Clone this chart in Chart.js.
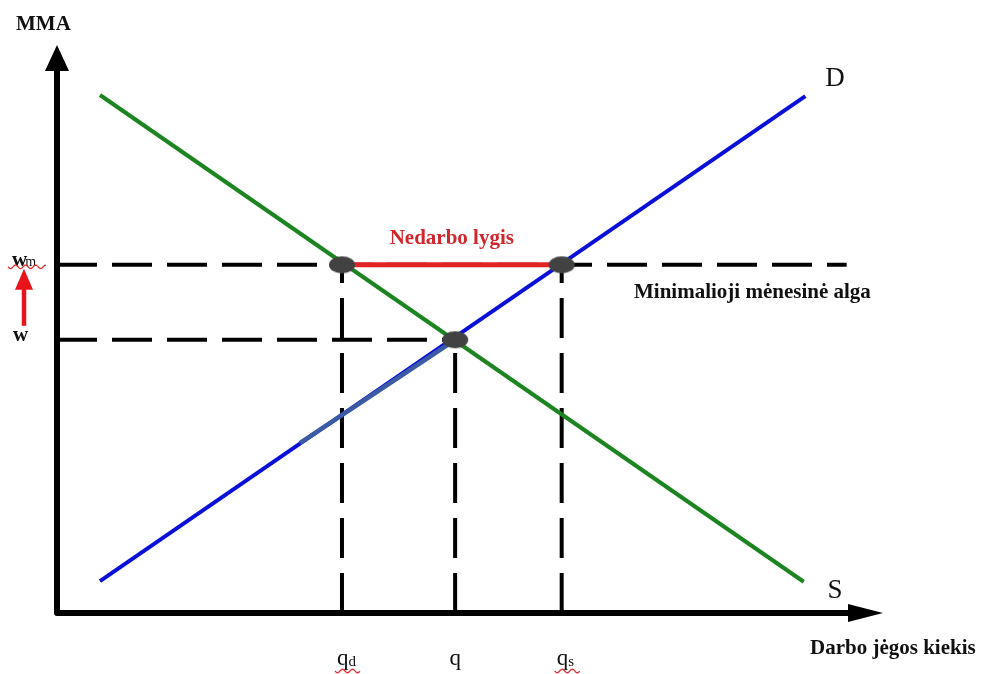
<!DOCTYPE html>
<html>
<head>
<meta charset="utf-8">
<script src="https://cdn.jsdelivr.net/npm/chart.js@4"></script>
<style>
  body { margin: 0; background: #fff; }
  .wrap { width: 983px; height: 674px; position: relative; }
</style>
</head>
<body>
<div class="wrap"><canvas id="labour"></canvas></div>
<script>
// Labour market chart: values in axis units (0..100)
const supplyLine = [{ x: 5.2, y: 91.2 }, { x: 90.4, y: 5.5 }];   // green
const demandLine = [{ x: 5.2, y: 5.6 }, { x: 90.6, y: 91.0 }];   // blue
const demandShade = [{ x: 29.4, y: 29.9 }, { x: 48.2, y: 48.1 }]; // darker blue part
const qTicks = [34.5, 48.2, 61.1];
const qSubs = ["d", "", "s"];
const wTicks = [61.3, 48.1];
const wSubs = ["m", ""];
const minWageEnd = 95.6;

const qd = qTicks[0], q = qTicks[1], qs = qTicks[2];
const wm = wTicks[0], w = wTicks[1];

// ellipse marker
const dot = document.createElement("canvas");
dot.width = 28;
dot.height = 19;
const dctx = dot.getContext("2d");
dctx.fillStyle = "#424242";
dctx.beginPath();
dctx.ellipse(14, 9.5, 13, 8.5, 0, 0, Math.PI * 2);
dctx.fill();

function dashed(points) {
  return {
    data: points,
    showLine: true,
    borderColor: "#000",
    borderWidth: 4,
    borderDash: [40, 15],
    pointRadius: 0,
    order: 5,
  };
}

function squiggle(ctx, x1, x2, y) {
  ctx.save();
  ctx.strokeStyle = "#e03030";
  ctx.lineWidth = 1.3;
  ctx.beginPath();
  for (let x = x1; x <= x2; x += 1) {
    const yy = y + Math.sin((x - x1) / 1.6) * 1.8;
    if (x === x1) ctx.moveTo(x, yy);
    else ctx.lineTo(x, yy);
  }
  ctx.stroke();
  ctx.restore();
}

const decorations = {
  id: "decorations",
  afterDatasetsDraw(chart) {
    const ctx = chart.ctx;
    const xs = chart.scales.x, ys = chart.scales.y;
    const x0 = xs.getPixelForValue(0), y0 = ys.getPixelForValue(0);
    const xEnd = xs.getPixelForValue(100), yEnd = ys.getPixelForValue(100);

    ctx.save();
    // axes
    ctx.strokeStyle = "#000";
    ctx.fillStyle = "#000";
    ctx.lineWidth = 6;
    ctx.lineJoin = "round";
    ctx.beginPath();
    ctx.moveTo(x0, yEnd + 20);
    ctx.lineTo(x0, y0);
    ctx.lineTo(xEnd - 30, y0);
    ctx.stroke();
    ctx.beginPath();
    ctx.moveTo(x0, yEnd);
    ctx.lineTo(x0 - 12, yEnd + 26);
    ctx.lineTo(x0 + 12, yEnd + 26);
    ctx.closePath();
    ctx.fill();
    ctx.beginPath();
    ctx.moveTo(xEnd, y0);
    ctx.lineTo(xEnd - 35, y0 - 9);
    ctx.lineTo(xEnd - 35, y0 + 9);
    ctx.closePath();
    ctx.fill();

    // red arrow w -> wm
    const ax = 24;
    ctx.strokeStyle = "#e8141c";
    ctx.fillStyle = "#e8141c";
    ctx.lineWidth = 4.5;
    ctx.beginPath();
    ctx.moveTo(ax, ys.getPixelForValue(w) - 14);
    ctx.lineTo(ax, ys.getPixelForValue(wm) + 20);
    ctx.stroke();
    ctx.beginPath();
    ctx.moveTo(ax, ys.getPixelForValue(wm) + 4);
    ctx.lineTo(ax - 9, ys.getPixelForValue(wm) + 25);
    ctx.lineTo(ax + 9, ys.getPixelForValue(wm) + 25);
    ctx.closePath();
    ctx.fill();

    // texts
    ctx.fillStyle = "#111";
    ctx.textBaseline = "alphabetic";
    ctx.font = "bold 21px 'Liberation Serif'";
    ctx.textAlign = "left";
    ctx.fillText("MMA", 16, 30);
    ctx.fillText("Minimalioji mėnesinė alga", 634, 298);
    ctx.fillText("Darbo jėgos kiekis", 810, 654);

    ctx.font = "27px 'Liberation Serif'";
    ctx.textAlign = "center";
    ctx.fillText("D", 835, 86);
    ctx.fillText("S", 835, 598);

    ctx.fillStyle = "#d0262c";
    ctx.font = "bold 21px 'Liberation Serif'";
    ctx.fillText("Nedarbo lygis", xs.getPixelForValue((qd + qs) / 2), 244);

    // quantity labels
    ctx.fillStyle = "#111";
    qTicks.forEach((v, i) => {
      const px = xs.getPixelForValue(v);
      ctx.font = "23px 'Liberation Serif'";
      ctx.textAlign = "left";
      const mw = ctx.measureText("q").width;
      const left = qSubs[i] ? px - 5 : px - mw / 2;
      ctx.fillText("q", left, 665);
      if (qSubs[i]) {
        ctx.font = "15px 'Liberation Serif'";
        ctx.fillText(qSubs[i], left + mw, 666);
        squiggle(ctx, left - 2, left + mw + 12, 671);
      }
    });

    // wage labels
    wTicks.forEach((v, i) => {
      const py = ys.getPixelForValue(v);
      ctx.font = "bold 21px 'Liberation Serif'";
      ctx.textAlign = "left";
      const lw = i === 0 ? 12 : 13;
      ctx.fillText("w", lw, py + (i === 0 ? 1 : 1));
      if (wSubs[i]) {
        const mw = ctx.measureText("w").width;
        ctx.font = "14px 'Liberation Serif'";
        ctx.fillText(wSubs[i], lw + mw - 2, py + 1);
        squiggle(ctx, 8, 46, py + 2);
      }
    });
    ctx.restore();
  },
};

new Chart(document.getElementById("labour").getContext("2d"), {
  type: "scatter",
  data: {
    datasets: [
      dashed([{ x: 0, y: wm }, { x: minWageEnd, y: wm }]),
      dashed([{ x: 0, y: w }, { x: q, y: w }]),
      dashed([{ x: qd, y: 0 }, { x: qd, y: wm }]),
      dashed([{ x: q, y: 0 }, { x: q, y: w }]),
      dashed([{ x: qs, y: 0 }, { x: qs, y: wm }]),
      {
        data: demandLine,
        showLine: true,
        borderColor: "#0a10d8",
        borderWidth: 4,
        pointRadius: 0,
        order: 4,
      },
      {
        data: demandShade,
        showLine: true,
        borderColor: "#3b5ba5",
        borderWidth: 4.5,
        pointRadius: 0,
        order: 3,
      },
      {
        data: supplyLine,
        showLine: true,
        borderColor: "#1c8420",
        borderWidth: 4,
        pointRadius: 0,
        order: 2,
      },
      {
        data: [{ x: qd, y: wm }, { x: qs, y: wm }],
        showLine: true,
        borderColor: "#e22424",
        borderWidth: 5,
        pointRadius: 0,
        order: 1,
      },
      {
        data: [{ x: qd, y: wm }, { x: q, y: w }, { x: qs, y: wm }],
        showLine: false,
        pointStyle: dot,
        order: 0,
      },
    ],
  },
  options: {
    responsive: true,
    maintainAspectRatio: false,
    animation: false,
    layout: { padding: { left: 57, right: 100, top: 45, bottom: 61 } },
    scales: {
      x: { type: "linear", min: 0, max: 100, display: false },
      y: { type: "linear", min: 0, max: 100, display: false },
    },
    plugins: {
      legend: { display: false },
      tooltip: { enabled: false },
    },
  },
  plugins: [decorations],
});
</script>
</body>
</html>
